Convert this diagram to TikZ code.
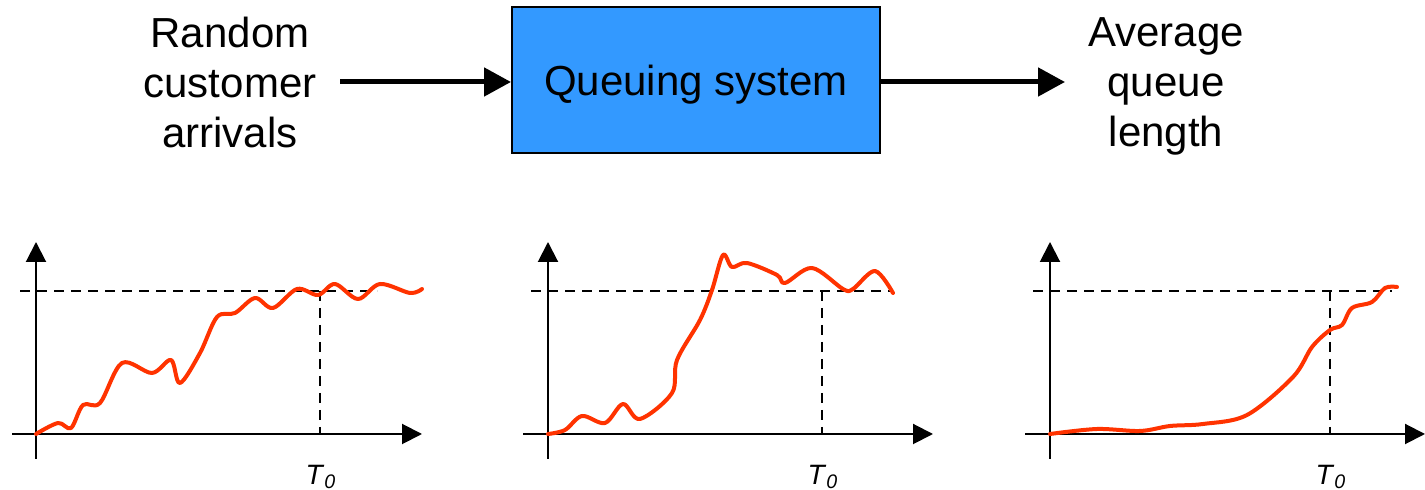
\documentclass[tikz,border=0pt]{standalone}
\usepackage{fontspec}
\setmainfont{Liberation Sans}
\usetikzlibrary{arrows.meta}
\definecolor{boxblue}{HTML}{3399FF}
\definecolor{curvered}{HTML}{FF3300}
\begin{document}
\begin{tikzpicture}[x=0.5pt,y=-0.5pt,
  lbl/.style={font=\fontsize{21}{25}\selectfont, align=center, inner sep=0pt},
  bigarrow/.style={line width=2.5pt, -{Triangle[length=13.5pt,width=14pt]}},
  axis/.style={line width=1pt, -{Triangle[length=10pt,width=10pt]}},
  guide/.style={line width=0.75pt, dash pattern=on 5pt off 3.5pt},
  signal/.style={line width=2pt, curvered, line cap=round, line join=round},
  tlabel/.style={font=\fontsize{14}{16}\selectfont, inner sep=0pt}]
\useasboundingbox (0,0) rectangle (1425,490);
% top row
\node[lbl] (in) at (230,82) {Random\\customer\\arrivals};
\node[lbl, draw=black, line width=1pt, fill=boxblue, minimum width=184pt, minimum height=73pt] (qs) at (696,80) {\raisebox{-8pt}[0pt][0pt]{Queuing system}};
\node[lbl] (out) at (1166,86) {Average\\queue\\length};
\coordinate (inS) at (340,82);
\draw[bigarrow] (inS) -- (qs.west |- inS);
\coordinate (outE) at (1065,82);
\draw[bigarrow] (qs.east |- outE) -- (outE);

% graph 1
\coordinate (xa1) at (12,434); \coordinate (xb1) at (422,434);
\coordinate (ya1) at (36,459); \coordinate (yb1) at (36,242);
\draw[axis] (xa1) -- (xb1);
\draw[axis] (ya1) -- (yb1);
\coordinate (h1a) at (20,291); \coordinate (h1b) at (377,291);
\coordinate (v1a) at (320,291); \coordinate (v1b) at (320,434);
\draw[guide] (h1a) -- (h1b);
\draw[guide] (v1a) -- (v1b);
\node[tlabel] (t1) at (321,477) {\textit{T}\textsubscript{\textit{0}}};
\draw[signal] plot[smooth, tension=0.55] coordinates {(36,434) (58,423) (71,428) (83,405) (100,403) (122,363) (152,373) (171,360) (180,383) (200,353) (217,317) (235,313) (255,298) (273,308) (297,289) (318,295) (335,284) (358,299) (380,284) (410,293) (422,289)};

% graph 2
\coordinate (xa2) at (523,434); \coordinate (xb2) at (933,434);
\coordinate (ya2) at (548,459); \coordinate (yb2) at (548,242);
\draw[axis] (xa2) -- (xb2);
\draw[axis] (ya2) -- (yb2);
\coordinate (h2a) at (531,291); \coordinate (h2b) at (892,291);
\coordinate (v2a) at (822,291); \coordinate (v2b) at (822,434);
\draw[guide] (h2a) -- (h2b);
\draw[guide] (v2a) -- (v2b);
\node[tlabel] (t2) at (823,477) {\textit{T}\textsubscript{\textit{0}}};
\draw[signal] plot[smooth, tension=0.55] coordinates {(548,434) (565,430) (582,416) (605,423) (623,404) (640,419) (672,393) (677,360) (700,320) (712,290) (723,255) (732,267) (747,263) (777,275) (785,283) (812,268) (843,289) (853,289) (875,271) (893,293)};

% graph 3
\coordinate (xa3) at (1025,434); \coordinate (xb3) at (1425,434);
\coordinate (ya3) at (1050,459); \coordinate (yb3) at (1050,242);
\draw[axis] (xa3) -- (xb3);
\draw[axis] (ya3) -- (yb3);
\coordinate (h3a) at (1033,291); \coordinate (h3b) at (1392,291);
\coordinate (v3a) at (1330,291); \coordinate (v3b) at (1330,434);
\draw[guide] (h3a) -- (h3b);
\draw[guide] (v3a) -- (v3b);
\node[tlabel] (t3) at (1331,477) {\textit{T}\textsubscript{\textit{0}}};
\draw[signal] plot[smooth, tension=0.55] coordinates {(1050,434) (1097,429) (1140,431) (1170,426) (1203,424) (1247,415) (1293,377) (1312,347) (1330,330) (1342,325) (1352,308) (1372,302) (1385,288) (1397,287)};
\end{tikzpicture}
\end{document}
